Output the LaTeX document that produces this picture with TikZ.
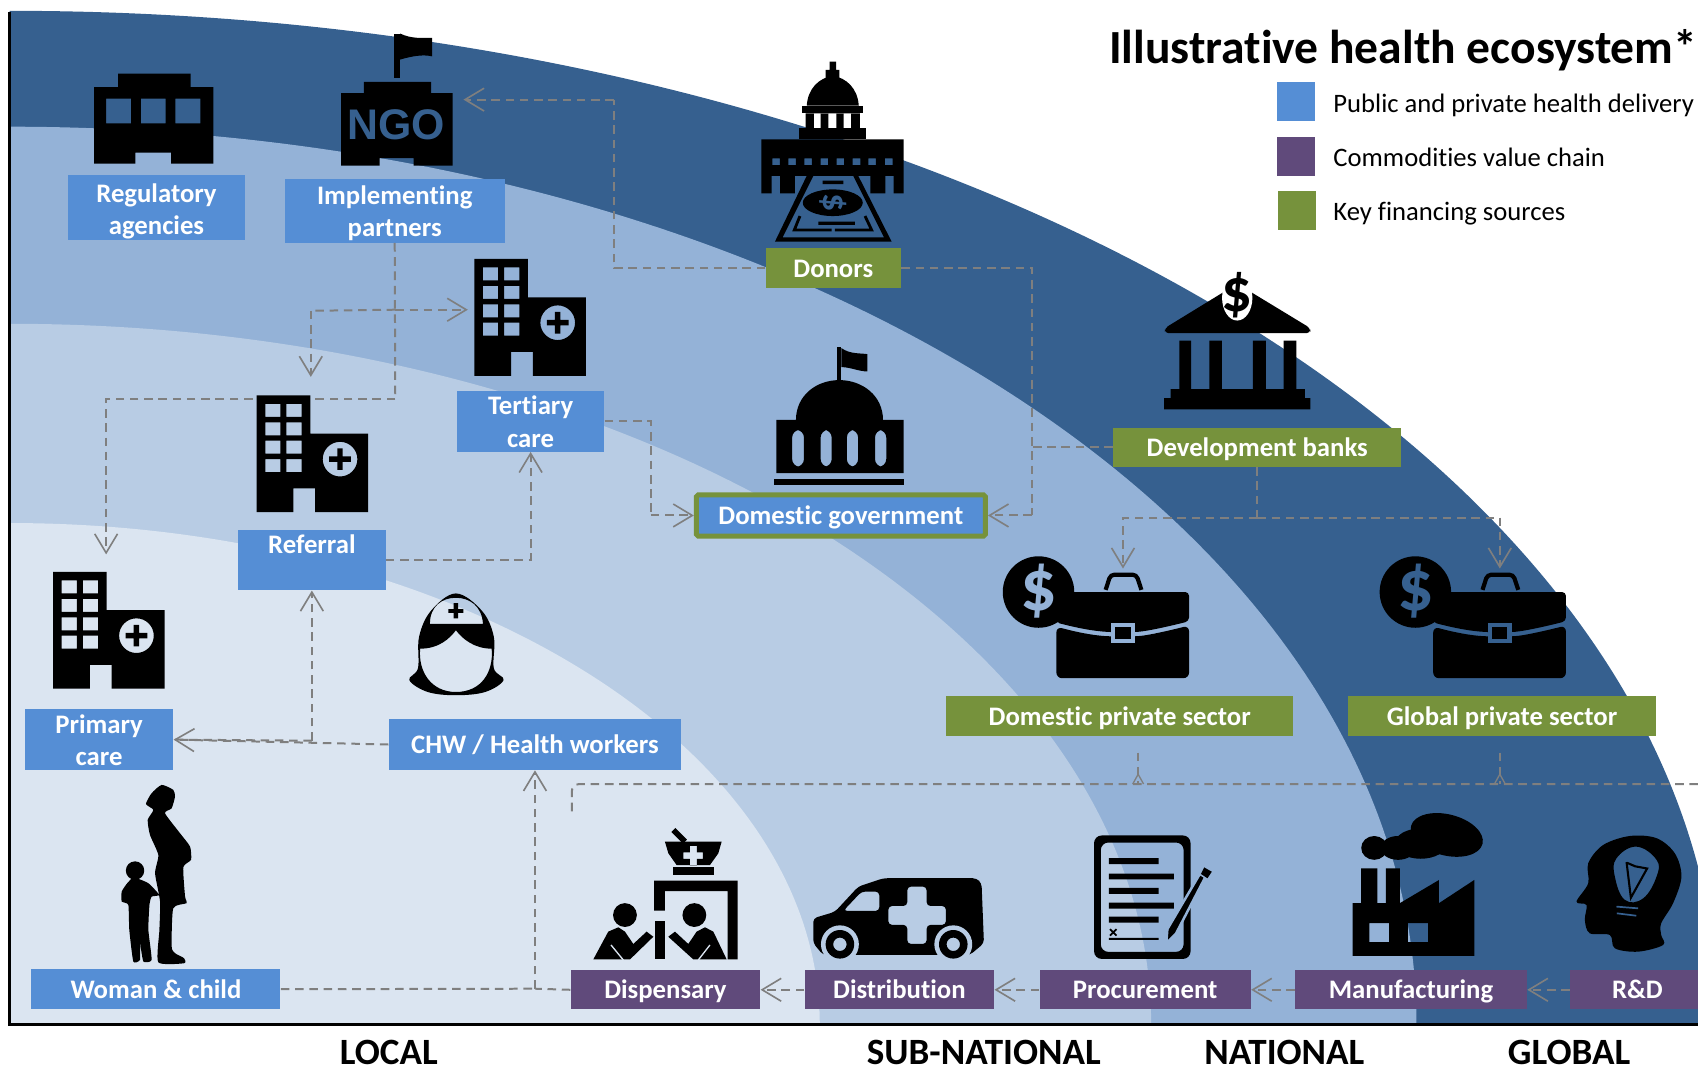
\documentclass[tikz,border=0pt]{standalone}
\usepackage{fontspec}
\setmainfont[Ligatures=NoCommon]{Carlito}
\newfontfamily\ngofont{Liberation Sans}
\usetikzlibrary{positioning,calc,arrows.meta}

\definecolor{bandA}{HTML}{36608F}
\definecolor{bandB}{HTML}{94B2D7}
\definecolor{bandC}{HTML}{B8CCE4}
\definecolor{bandD}{HTML}{DBE5F1}
\definecolor{careblue}{HTML}{558ED5}
\definecolor{chainpurple}{HTML}{604A7B}
\definecolor{fundgreen}{HTML}{76923C}
\definecolor{flowgray}{HTML}{7F7F7F}

\def\pxu{0.02cm}
\newcommand{\toppad}[1]{\rule{0pt}{#1pt}}

\tikzset{
    dims/.style 2 args={minimum width=#1*\pxu,minimum height=#2*\pxu},
    labelbox/.style={text=white,inner sep=0pt,align=center,font=\fontsize{14.05}{17}\selectfont\bfseries},
    oneline/.style={text height=9.6pt,text depth=0pt},
    carebox/.style={labelbox,fill=careblue},
    chainbox/.style={labelbox,oneline,fill=chainpurple},
    fundbox/.style={labelbox,oneline,fill=fundgreen},
    swatch/.style={inner sep=0pt,dims={35}{36}},
    legendtext/.style={anchor=west,inner sep=0pt,text height=9.6pt,text depth=0pt,font=\fontsize{14}{16}\selectfont},
    levellabel/.style={inner sep=0pt,font=\fontsize{19.5}{22}\selectfont\bfseries},
    flow/.style={flowgray,line width=1.05pt,dash pattern=on 4.5pt off 3pt},
    flowto/.style={flow,-{Straight Barb[length=10pt,width=12pt,line width=0.85pt]}},
    icon/.style={fill=black,even odd rule},
    pics/hospital/.style={code={
        \fill[icon] (0,0) -- (49.5,0) -- (49.5,35.5) -- (103,35.5) -- (103,108) -- (54,108) -- (54,86) -- (34,86) -- (34,108) -- (0,108) -- cycle
            \foreach \wy in {8,25,42,59} {(8,\wy) rectangle +(14,12) (27.5,\wy) rectangle +(14,12)}
            (77,59) circle (16)
            (74.5,49) -- (79.5,49) -- (79.5,56.5) -- (87,56.5) -- (87,61.5) -- (79.5,61.5) -- (79.5,69) -- (74.5,69) -- (74.5,61.5) -- (67,61.5) -- (67,56.5) -- (74.5,56.5) -- cycle;
    }},
    pics/briefcase/.style={code={
        \fill[black] (0,0) circle (33);
        \node[text=#1,inner sep=0pt,font=\fontsize{38}{38}\selectfont\bfseries] (coinsign) at (0,-1) {\$};
        \fill[black,rounded corners=2pt] (28,0) -- (139,0) -- (139,27) .. controls (115,33) and (100,36) .. (89,37) -- (67,37) .. controls (50,36) and (35,33) .. (16,28) -- (30,15) -- cycle;
        \fill[black,rounded corners=3pt] (16.5,32) .. controls (35,37) and (50,40) .. (67,41) -- (89,41) .. controls (100,40) and (115,37) .. (139,31) -- (139,79.6) -- (16.5,79.6) -- cycle;
        \fill[#1] (67,28.7) rectangle (89,47.3);
        \fill[black] (71,32.7) rectangle (85,43.3);
        \draw[black,line width=2.2pt,rounded corners=2pt] (62,-2) -- (66.5,-16) -- (90.4,-16) -- (95,-2);
    }}
}

\begin{document}
\begin{tikzpicture}[x=0.02cm,y=-0.02cm]
    \useasboundingbox (0,0) rectangle (1568,985.33);

    \begin{scope}
        \clip (9,0) rectangle (1568,946);
        \fill[bandA] (9,946) ellipse [x radius=1578,y radius=936];
        \fill[bandB] (9,946) ellipse [x radius=1299,y radius=829];
        \fill[bandC] (9,946) ellipse [x radius=1054,y radius=647];
        \fill[bandD] (9,946) ellipse [x radius=748,y radius=463];
    \end{scope}
    \draw[black,line width=1.4pt] (9,11) -- (9,946) -- (1568,946);

    \node[carebox,dims={163}{60}] at (144.5,192) (Regulatory) {\toppad{13.5}Regulatory\\agencies};
    \node[carebox,dims={203}{59}] at (364.5,194.5) (Partners) {\toppad{12.5}Implementing\\partners};
    \node[carebox,dims={136}{56}] at (490,389) (TertiaryCare) {\toppad{10.5}Tertiary\\care};
    \node[carebox,dims={136}{56}] at (288,517) (Referral) {\toppad{10.5}Referral\\\mbox{}};
    \node[carebox,dims={137}{56}] at (91.5,683) (PrimaryCare) {\toppad{10.5}Primary\\care};
    \node[carebox,oneline,dims={270}{47}] at (494,687.5) (HealthWorkers) {CHW / Health workers};
    \node[carebox,oneline,dims={230}{37}] at (144,913.5) (WomanChild) {Woman \& child};
    \node[chainbox,dims={175}{36}] at (614.5,914) (Dispensary) {Dispensary};
    \node[chainbox,dims={175}{36}] at (830.5,914) (Distribution) {Distribution};
    \node[chainbox,dims={195}{36}] at (1057.5,914) (Procurement) {Procurement};
    \node[chainbox,dims={214}{36}] at (1303,914) (Manufacturing) {Manufacturing};
    \node[chainbox,dims={124}{36}] at (1512,914) (RandD) {R\&D};
    \node[fundbox,dims={125}{37}] at (769.5,247.5) (Donors) {Donors};
    \node[fundbox,dims={266}{36}] at (1161,413) (DevBanks) {Development banks};
    \node[carebox,oneline,draw=fundgreen,line width=2.6pt,rounded corners=1pt,dims={267}{38}] at (776.5,476) (DomesticGov) {Domestic government};
    \node[fundbox,dims={320}{37}] at (1034,661.5) (DomesticPrivate) {Domestic private sector};
    \node[fundbox,dims={284}{37}] at (1387,661.5) (GlobalPrivate) {Global private sector};

    \node[anchor=east,inner sep=0pt,font=\fontsize{25}{28}\selectfont\bfseries] at (1567.5,46) (Title) {Illustrative health ecosystem*};
    \node[swatch,fill=careblue] at (1196.5,94) (KeyCare) {};
    \node[swatch,fill=chainpurple] at (1196.5,144.5) (KeyChain) {};
    \node[swatch,fill=fundgreen] at (1197.5,194) (KeyFund) {};
    \node[legendtext] at (1231,95) (KeyCareText) {Public and private health delivery};
    \node[legendtext] at (1231,145) (KeyChainText) {Commodities value chain};
    \node[legendtext] at (1231,195) (KeyFundText) {Key financing sources};

    \node[levellabel] at (359,972) (Local) {LOCAL};
    \node[levellabel] at (908.5,972) (SubNational) {SUB-NATIONAL};
    \node[levellabel] at (1186,972) (National) {NATIONAL};
    \node[levellabel] at (1449,972) (Global) {GLOBAL};

    \coordinate (NgoIn) at (428,92);
    \coordinate (NgoBend) at (567,92);
    \coordinate (GovBend) at (953,476);
    \coordinate (GovTap) at (953,413);
    \coordinate (BankSplit) at (1161,478);
    \coordinate (DomesticCase) at (1037,525);
    \coordinate (GlobalCase) at (1385,525);
    \coordinate (TertiaryBend) at (601,476);
    \coordinate (ReferBend) at (365,368);
    \coordinate (PrimaryIn) at (98,512);
    \coordinate (PartnerTap) at (365,286);
    \coordinate (TertiaryIn) at (432,286);
    \coordinate (ReferralTurn) at (287,287);
    \coordinate (ReferralIn) at (287,348);
    \coordinate (WorkerTap) at (288,684);
    \coordinate (DispensaryTap) at (494,913);
    \coordinate (PrivateEnd) at (1568,724);
    \coordinate (PrivateTurn) at (528,724);
    \coordinate (PrivateStart) at (528,753);
    \coordinate (DomesticStub) at (1051,695);
    \coordinate (DomesticJoin) at (1051,724);
    \coordinate (GlobalStub) at (1385,695);
    \coordinate (GlobalJoin) at (1385,724);

    \draw[flow] (Donors.west) -| (NgoBend);
    \draw[flowto] (NgoBend) -- (NgoIn);
    \draw[flow] (Donors.east) -| (GovBend);
    \draw[flowto] (GovBend) -- (DomesticGov.east);
    \draw[flow] (DevBanks.west) -- (GovTap);
    \draw[flow] (DevBanks.south) -- (BankSplit);
    \draw[flowto] (BankSplit) -| (DomesticCase);
    \draw[flowto] (BankSplit) -| (GlobalCase);
    \draw[flow] (TertiaryCare.east) -| (TertiaryBend);
    \draw[flowto] (TertiaryBend) -- (DomesticGov.west);
    \draw[flow] (Partners.south) -- (ReferBend);
    \draw[flowto] (ReferBend) -| (PrimaryIn);
    \draw[flowto] (PartnerTap) -- (TertiaryIn);
    \draw[flow] (PartnerTap) -- (ReferralTurn);
    \draw[flowto] (ReferralTurn) -- (ReferralIn);
    \draw[flowto] (Referral.east) -| (TertiaryCare.south);
    \draw[flowto] (HealthWorkers.west) -- (PrimaryCare.east);
    \draw[flow] (WorkerTap) -- (PrimaryCare.east);
    \draw[flowto] (WorkerTap) -- (Referral.south);
    \draw[flow] (WomanChild.east) -- (DispensaryTap);
    \draw[flow] (Dispensary.west) -- (DispensaryTap);
    \draw[flowto] (DispensaryTap) -- (HealthWorkers.south);
    \draw[flowto] (Distribution.west) -- (Dispensary.east);
    \draw[flowto] (Procurement.west) -- (Distribution.east);
    \draw[flowto] (Manufacturing.west) -- (Procurement.east);
    \draw[flowto] (RandD.west) -- (Manufacturing.east);
    \draw[flow,rounded corners=4pt] (PrivateEnd) -- (PrivateTurn) -- (PrivateStart);
    \draw[flow] (DomesticStub) -- (DomesticJoin);
    \draw[flow] (GlobalStub) -- (GlobalJoin);
    \draw[flowgray,line width=0.7pt] (1046,724) -- (1051,715) -- (1056,724);
    \draw[flowgray,line width=0.7pt] (1380,724) -- (1385,715) -- (1390,724);

    % regulator
    \fill[icon] (109,68) -- (176,68) -- (176,80.5) -- (197,80.5) -- (197,151) -- (158,151) -- (158,141) -- (125,141) -- (125,151) -- (87,151) -- (87,80.5) -- (109,80.5) -- cycle
        (98,91) rectangle (121,114) (130,91) rectangle (153,114) (162,91) rectangle (185,114);

    % ngo
    \fill[black] (364,31) rectangle (369.5,72);
    \fill[black] (369.5,31) .. controls (380,36) and (390,35) .. (399,35) -- (399,52) .. controls (390,50) and (380,52) .. (369.5,55) -- cycle;
    \fill[icon] (336,75.5) -- (398,75.5) -- (398,86) -- (418,86) -- (418,153) -- (382,153) -- (382,146) -- (350.5,146) -- (350.5,153) -- (315,153) -- (315,86) -- (336,86) -- cycle;
    \node[text=bandA,inner sep=0pt,font=\fontsize{22.5}{24}\selectfont\ngofont\bfseries] at (366,115) (NgoText) {NGO};

    \pic (TertiaryIcon) at (438,239) {hospital};
    \pic (ReferralIcon) at (237,365) {hospital};
    \pic (PrimaryIcon) at (49,528) {hospital};

    % nurse
    \fill[icon] plot[smooth cycle,tension=0.6] coordinates {(421,548) (398,564) (387,588) (386,617) (378,628) (395,639) (421,642) (448,639) (465,628) (456,617) (456,588) (445,564)}
        (397,576) .. controls (397,560) and (408,552) .. (421,552) .. controls (434,552) and (445,560) .. (446,576) -- cycle
        (388,599) .. controls (405,599) and (415,590) .. (421,582) .. controls (427,590) and (438,599) .. (454,599) .. controls (456,620) and (445,639) .. (421,639) .. controls (398,639) and (386,620) .. (388,599) -- cycle;
    \fill[black] (419,557) rectangle (423,571) (414,562.5) rectangle (428,566);

    % woman and child
    \fill[black] plot[smooth cycle,tension=0.35] coordinates {(149.3,724.8) (160,729.4) (161.6,735.6) (158.5,746.4) (152.4,751) (166.2,769.4) (175.5,781.8) (176.4,794) (169.3,800.8) (170.9,828) (172.4,834) (160,838.7) (158.5,874) (161.6,880.2) (170,884.9) (170,889.5) (146.2,888.6) (147.2,858.7) (147.8,832.5) (143.2,806.4) (146.2,789.5) (138.5,771) (136.4,757.1) (141.6,747.9) (134.8,742.4) (140,732.5)};
    \fill[black] (124.7,803.9) circle (8.5);
    \fill[black] plot[smooth cycle,tension=0.3] coordinates {(126.2,811) (137,815.6) (147.1,826.4) (140,828) (138,835.6) (137,858.7) (140,886.4) (132.4,887.9) (129.3,871) (129.3,886.4) (123.1,887.9) (119.4,858.7) (118.5,835.6) (112.4,832.5) (112.4,823.3) (117,816.2) (122,811)};

    % dispensary
    \draw[black,line width=3pt] (621.8,766.4) -- (632.5,777.2);
    \fill[icon] (614,777.2) -- (666.4,777.2) -- (663.3,788) -- (655.6,798.8) -- (624.8,798.8) -- (617.2,788) -- cycle
        (637,781) -- (643.5,781) -- (643.5,787) -- (649,787) -- (649,793) -- (643.5,793) -- (643.5,799) -- (637,799) -- (637,793) -- (631,793) -- (631,787) -- (637,787) -- cycle;
    \fill[black] (621.8,801) rectangle (659.6,808);
    \fill[black] (604,813.2) -- (681.2,813.2) -- (681.2,885.9) -- (672,885.9) -- (672,822.8) -- (614,822.8) -- (614,841) -- (604,841) -- cycle;
    \fill[black] (604.8,850.5) rectangle (614,885.9);
    \fill[black] (577.1,845) circle (11) (641.2,845) circle (11);
    \fill[black] (547.9,885.9) -- (561.7,860.3) -- (571,856.3) -- (577.1,860.3) -- (584.8,871.7) -- (597.1,860.3) -- (603.3,865) -- (581.8,885.9) -- cycle;
    \fill[black] (617.1,865) -- (623.3,860.3) -- (635.6,871.7) -- (643.3,860.3) -- (651,856.3) -- (658.7,860.3) -- (671,885.9) -- (640.2,885.9) -- cycle;
    \draw[bandD,line width=0.7pt] (564.2,872.6) -- (575.6,886.5) (655.6,872.6) -- (644.8,886.5);

    % ambulance
    \fill[icon,rounded corners=2pt] (751,848) -- (771,842) -- (792.6,818.7) -- (815.7,811) -- (901.8,811) -- (906.4,815.6) -- (908.6,871) -- (895.7,881.8) -- (760,881.8) -- (751,871) -- cycle
        (778.7,841.2) -- (795.6,823.3) -- (812,823.3) -- (812,841.2) -- cycle
        (820.3,836.6) -- (837.8,836.6) -- (837.8,818.7) -- (855.7,818.7) -- (855.7,836.6) -- (873.5,836.6) -- (873.5,854.1) -- (855.7,854.1) -- (855.7,871.7) -- (837.8,871.7) -- (837.8,854.1) -- (820.3,854.1) -- cycle;
    \fill[bandC] (775.6,872) circle (17.5) (880.3,872) circle (17.5);
    \fill[icon] (775.6,872) circle (13.2) (775.6,872) circle (6.2) (880.3,872) circle (13.2) (880.3,872) circle (6.2);

    % document
    \fill[icon,rounded corners=4pt] (1010.3,771.5) rectangle (1099.4,885.5) (1016.5,778) rectangle (1093,879);
    \fill[black] (1024,792.5) rectangle (1070,798) (1024,806.8) rectangle (1084,812) (1024,820) rectangle (1070,825.5) (1024,833.5) rectangle (1084,839) (1024,846.5) rectangle (1070,852) (1024,866) rectangle (1070,868);
    \draw[black,line width=0.9pt] (1025,858) -- (1031,864) (1031,858) -- (1025,864);
    \fill[black,draw=bandB,line width=1.3pt] (1108,807) -- (1113,810) -- (1086,862) -- (1077,871) -- (1078,858) -- cycle;
    \fill[black] (1112,801) -- (1119,805) -- (1115,811) -- (1109,807) -- cycle;

    % factory
    \fill[black] (1269,783) ellipse [x radius=12,y radius=11];
    \fill[black] (1291,783) ellipse [x radius=16,y radius=11];
    \fill[black] (1312,779) ellipse [x radius=24,y radius=14];
    \fill[black,rotate around={-14:(1336,771)}] (1336,771) ellipse [x radius=34,y radius=19];
    \fill[icon] (1257,802) -- (1272,802) -- (1272,834) -- (1279.7,834) -- (1279.7,802) -- (1292.7,802) -- (1292.7,834) -- (1328.8,812.6) -- (1328.8,834) -- (1361.4,812.6) -- (1361.4,882.7) -- (1249,882.7) -- (1249,834) -- (1257,834) -- cycle
        (1264.5,852.4) rectangle (1282.7,870) (1300,852.4) rectangle (1318.8,870);

    % head
    \fill[icon] plot[smooth cycle,tension=0.55] coordinates {(1505,772) (1529.7,774) (1546.6,788) (1552.7,809.5) (1545,834) (1534,852.6) (1534,863.4) (1535.8,872.6) (1512.7,878.8) (1491.2,875.7) (1486.6,863.4) (1468,861.8) (1463.5,849.5) (1465,835.7) (1455.8,832.6) (1466.6,815.7) (1466.6,797.2) (1480.4,780.3)}
        plot[smooth cycle,tension=0.7] coordinates {(1511,781.8) (1529.7,794) (1529.7,809.5) (1517.4,829.5) (1500.4,831) (1491.2,809.5) (1492.7,792.6)};
    \draw[black,line width=1.1pt] (1502,796) -- (1506,829) -- (1521,802) -- (1510,800) -- (1503,797);
    \draw[bandA,line width=0.9pt] (1492.7,837.2) -- (1512.7,838.8) (1493,843.4) -- (1511,845.6);

    % capitol
    \fill[black] (766,57) rectangle (772,65) (762.5,64.6) rectangle (775,72.3);
    \fill[black] (745,97.5) .. controls (746,82) and (756,72) .. (769,70) .. controls (782,72) and (792,82) .. (793,97.5) -- cycle;
    \fill[black] (741,97.5) rectangle (797,104.6);
    \fill[icon] (744,104.6) rectangle (794,118.4) (751.5,105) rectangle (757.8,118.4) (765,105) rectangle (772.4,118.4) (779,105) rectangle (786,118.4);
    \fill[black] (737.7,118.4) rectangle (799.7,128.6);
    \fill[icon] (703,128.6) -- (834.4,128.6) -- (834.4,178.5) -- (825.2,178.5) -- (825.2,162.5) -- (817.5,162.5) -- (817.5,178.5) -- (803.7,178.5) -- (803.7,162.5) -- (734,162.5) -- (734,178.5) -- (720.3,178.5) -- (720.3,162.5) -- (712.6,162.5) -- (712.6,178.5) -- (703,178.5) -- cycle
        \foreach \wx in {713.2,728,742.7,757.8,772.6,787.4,801.8,817.2} {(\wx,146.2) rectangle +(7,6.2)};
    \fill[icon] (744.9,162.5) -- (792.6,162.5) -- (823.4,223.2) -- (715.6,223.2) -- cycle (751,162.5) -- (788,162.5) -- (816.3,219.2) -- (722.7,219.2) -- cycle;
    \fill[black] (769,187.2) ellipse [x radius=27.7,y radius=12.3];
    \node[text=bandA,rotate=-90,inner sep=0pt,font=\fontsize{19}{19}\selectfont\bfseries] at (769,187.2) (DonorSign) {\$};
    \fill[black] (759.7,166.9) rectangle (778.8,170) (755.7,204.7) rectangle (789.5,207.7);
    \draw[black,line width=1.5pt] (738.7,199.5) -- (733.5,212.4) -- (768,212.4) (798.8,199.5) -- (804.9,212.4) -- (771,212.4);

    % government
    \fill[black] (773,320) rectangle (777,352);
    \fill[black] (777,321.5) .. controls (785,327) and (793,326) .. (801,327) -- (801,343) .. controls (793,343) and (785,339) .. (777,339) -- cycle;
    \fill[black] (735,388) .. controls (735,365) and (754,351) .. (775,351) .. controls (796,351) and (815.4,365) .. (815.4,388) -- cycle;
    \fill[icon] (717,387.7) rectangle (834.4,437)
        [rounded corners=4pt] (731.5,397) rectangle (742.4,431) (757.8,397) rectangle (768,431) (782,397) rectangle (792.4,431) (808,397) rectangle (818.4,431);
    \fill[black] (715,442.4) rectangle (835,447.7);

    % bank
    \fill[black,rounded corners=2pt] (1075.6,307.7) -- (1075.6,303) -- (1142.5,262) -- (1210,303) -- (1210,307.7) -- cycle;
    \fill[white] (1142.5,275) ellipse [x radius=14,y radius=21];
    \node[black,inner sep=0pt,font=\fontsize{32}{32}\selectfont\bfseries] at (1142.5,273) (BankSign) {\$};
    \fill[black] (1089,314.5) rectangle (1100,360) (1116.8,314.5) rectangle (1128.4,360) (1157,314.5) rectangle (1169,360) (1185.4,314.5) rectangle (1197,360);
    \fill[black] (1081,359.4) rectangle (1205,367.7) (1075,367.7) rectangle (1210,378);

    \pic (DomesticIcon) at (959,546.7) {briefcase=bandB};
    \pic (GlobalIcon) at (1307,546.7) {briefcase=bandA};
\end{tikzpicture}
\end{document}
